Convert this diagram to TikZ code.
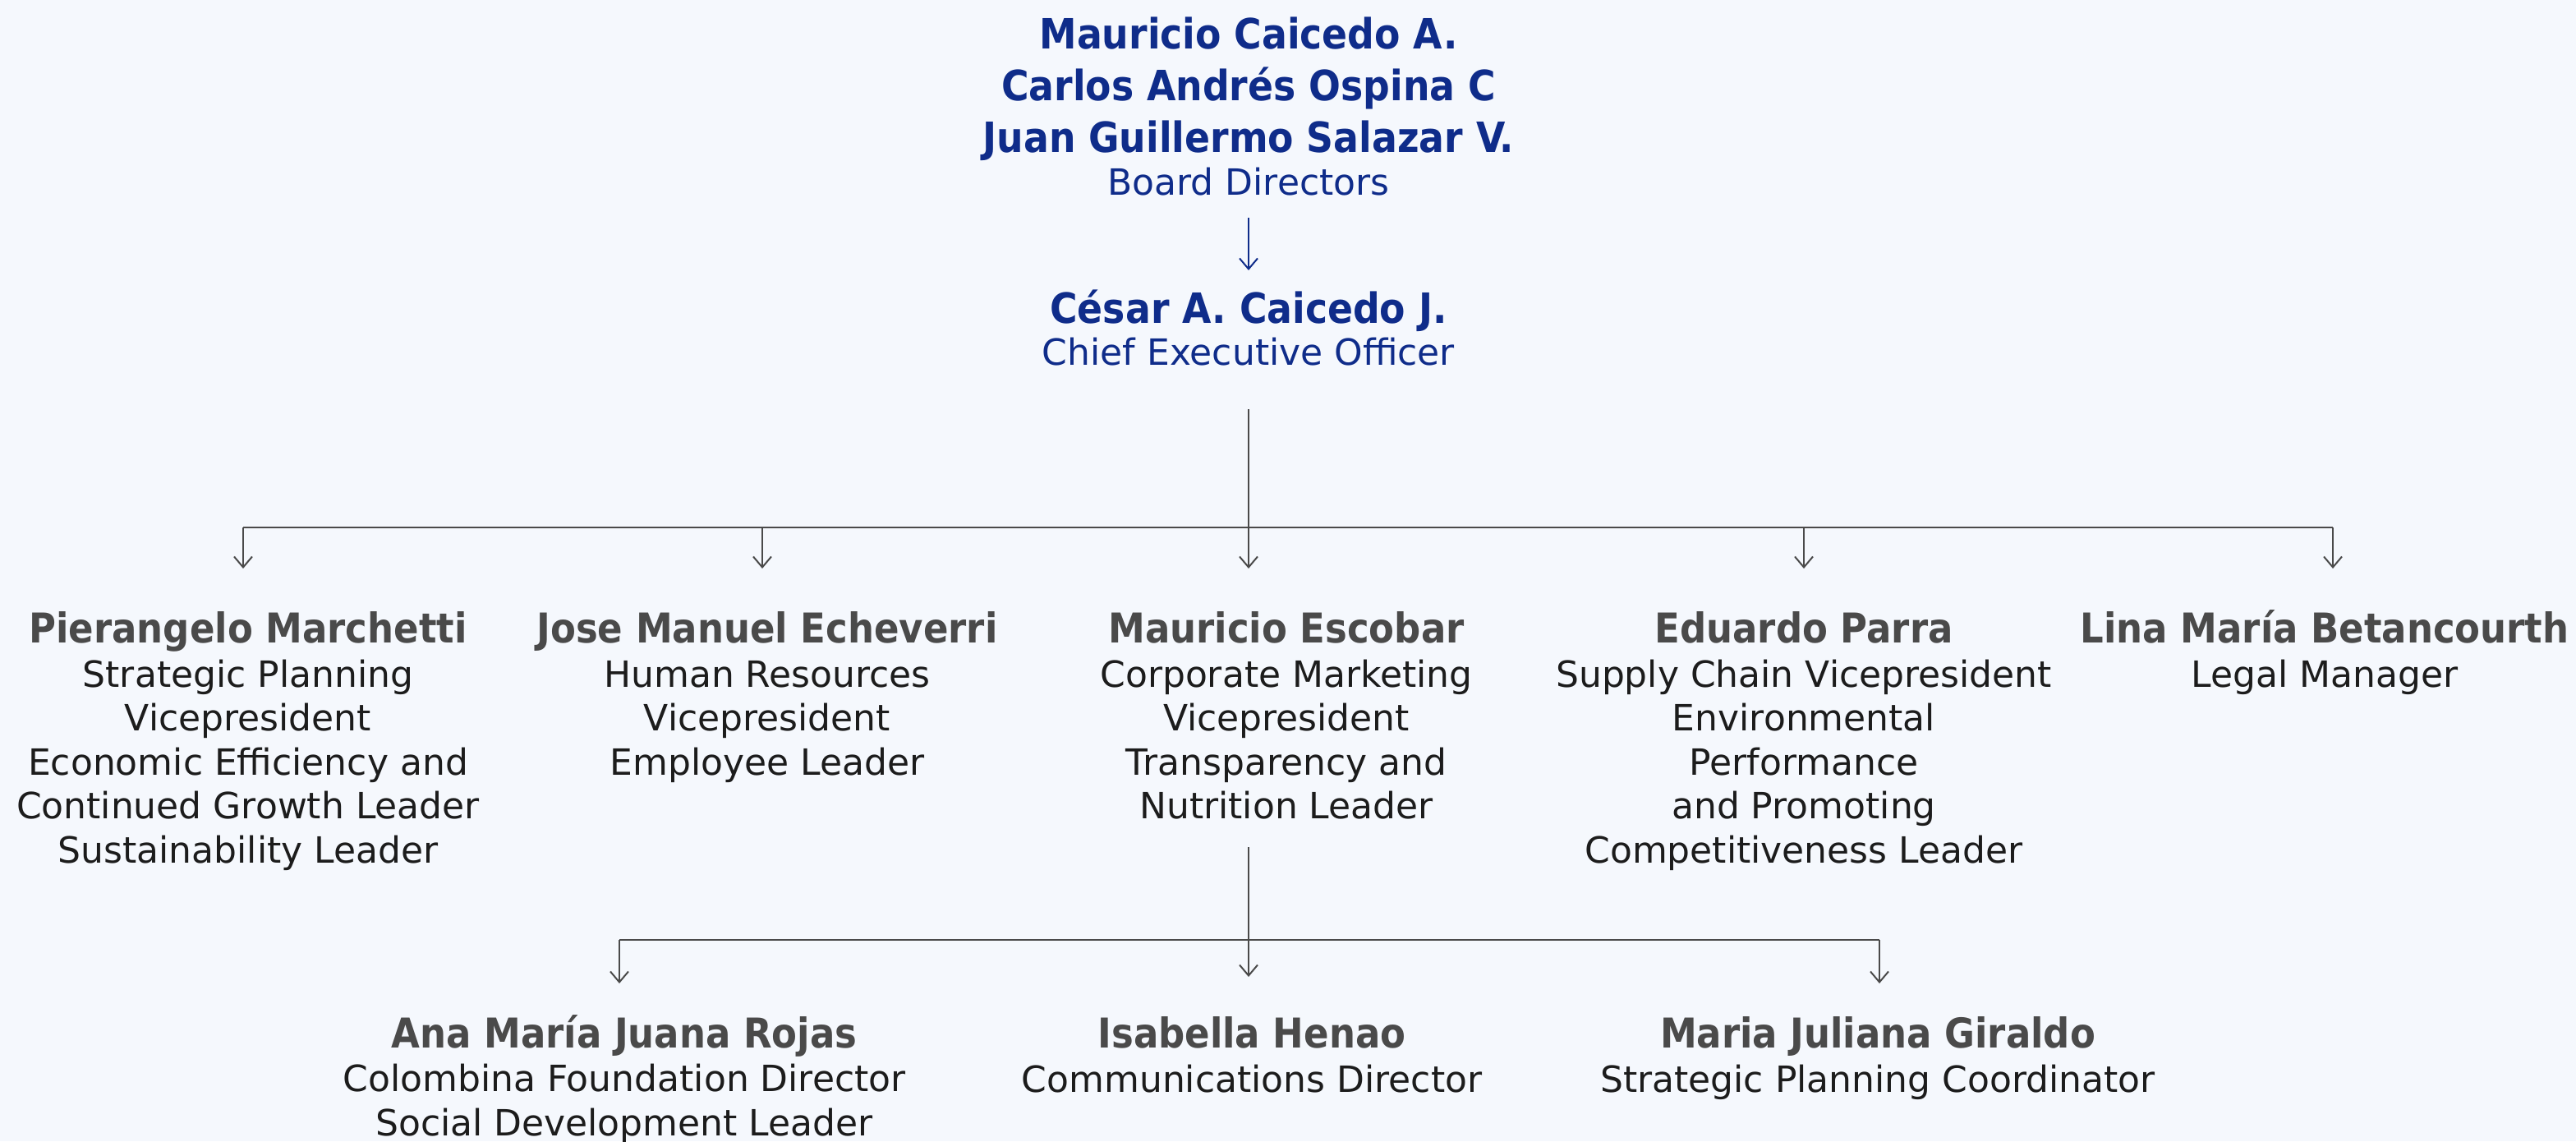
\documentclass[tikz,border=0pt]{standalone}
\usepackage{fontspec}
\setmainfont{DejaVu Sans}
\newfontfamily\condfam{DejaVu Sans Condensed}[BoldFont={DejaVu Sans Condensed Bold}]
\usetikzlibrary{arrows.meta}

\definecolor{bgcol}{HTML}{F5F8FD}
\definecolor{boardblue}{HTML}{0F2C8A}
\definecolor{namegray}{HTML}{4A4A4A}
\definecolor{desccol}{HTML}{1C1C1C}
\definecolor{linegray}{HTML}{4A4A4A}

% type styles
\newcommand\nmfont{\condfam\fontsize{25}{27}\selectfont\bfseries\color{namegray}}
\newcommand\dsfont{\fontsize{22}{26.75}\selectfont}
\newcommand\tpfont{\condfam\fontsize{25.4}{31.5}\selectfont\bfseries}
\newcommand\tdfont{\rmfamily\fontsize{22}{26}\selectfont\mdseries}

\tikzset{
  link/.style={draw=linegray, line width=1pt},
  arr/.style={link, -{Straight Barb[length=6.5pt,width=11pt]}},
  person/.style={align=center, inner sep=0pt, anchor=base, font=\dsfont, text=desccol},
  topbox/.style={align=center, inner sep=0pt, anchor=base, font=\tpfont, text=boardblue},
}

\begin{document}
\begin{tikzpicture}[x=1pt,y=1pt]
  \fill[bgcol] (0,0) rectangle (1568,-694.5);
  \useasboundingbox (0,0) rectangle (1568,-694.5);

  % board and chief executive (nodes sit on the baseline of their last line)
  \node[topbox] (board) at (760,-118.7)
    {Mauricio Caicedo A.\\ Carlos Andrés Ospina C\\ Juan Guillermo Salazar V.\\[-5.5pt] {\tdfont Board Directors}};
  \node[topbox] (ceo) at (760,-222)
    {César A. Caicedo J.\\[-6pt] {\tdfont Chief Executive Officer}};

  % vice presidents
  \node[person] (pm) at (151,-525) {{\nmfont Pierangelo Marchetti}\\ Strategic Planning\\ Vicepresident\\ Economic Efficiency and\\ Continued Growth Leader\\ Sustainability Leader};
  \node[person] (je) at (467,-471.5) {{\nmfont Jose Manuel Echeverri}\\ Human Resources\\ Vicepresident\\ Employee Leader};
  \node[person] (me) at (783,-498.25) {{\nmfont Mauricio Escobar}\\ Corporate Marketing\\ Vicepresident\\ Transparency and\\ Nutrition Leader};
  \node[person] (ep) at (1098,-525) {{\nmfont Eduardo Parra}\\ Supply Chain Vicepresident\\ Environmental\\ Performance\\ and Promoting\\ Competitiveness Leader};
  \node[person] (lb) at (1415,-418) {{\nmfont Lina María Betancourth}\\ Legal Manager};

  % directors under marketing
  \node[person] (ar) at (380,-691) {{\nmfont Ana María Juana Rojas}\\ Colombina Foundation Director\\ Social Development Leader};
  \node[person] (ih) at (762,-664.5) {{\nmfont Isabella Henao}\\ Communications Director};
  \node[person] (mg) at (1143,-664.5) {{\nmfont Maria Juliana Giraldo}\\ Strategic Planning Coordinator};

  % board to chief executive
  \draw[link, draw=boardblue, -{Straight Barb[length=6.5pt,width=11pt]}]
    (760,-132.5) coordinate (bs) -- (760,-164.5) coordinate (ce);

  % chief executive to vice presidents
  \draw[arr] (760,-249) coordinate (cs) -- (760,-346) coordinate (t3);
  \draw[link] (148,-321) coordinate (bl) -- (1420,-321) coordinate (br);
  \draw[arr] (bl) -- (148,-346) coordinate (t1);
  \draw[arr] (464,-321) coordinate (bj) -- (464,-346) coordinate (t2);
  \draw[arr] (1098,-321) coordinate (be) -- (1098,-346) coordinate (t4);
  \draw[arr] (br) -- (1420,-346) coordinate (t5);

  % marketing to its directors
  \draw[arr] (760,-515.5) coordinate (ms) -- (760,-594.5) coordinate (u2);
  \draw[link] (377,-572) coordinate (cl) -- (1144,-572) coordinate (cr);
  \draw[arr] (cl) -- (377,-598.5) coordinate (u1);
  \draw[arr] (cr) -- (1144,-598.5) coordinate (u3);
\end{tikzpicture}
\end{document}
